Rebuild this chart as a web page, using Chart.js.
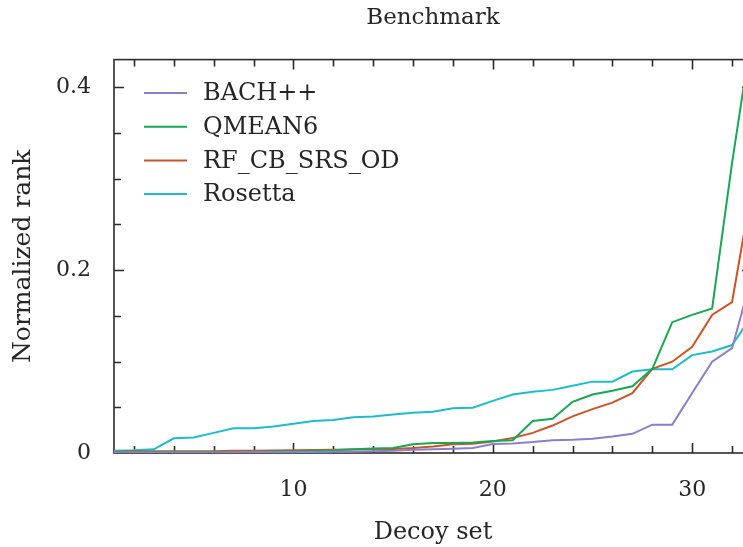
<!DOCTYPE html>
<html>
<head>
<meta charset="utf-8">
<script src="https://cdn.jsdelivr.net/npm/chart.js@4/dist/chart.umd.min.js"></script>
<style>
  html, body { margin: 0; padding: 0; background: #fff; overflow: hidden; }
  #wrap { width: 760px; height: 547px; }
</style>
</head>
<body>
<div id="wrap"><canvas id="chart" width="760" height="547"></canvas></div>
<script>
// decoy set index on the x axis
var decoySets = [1, 2, 3, 4, 5, 6, 7, 8, 9, 10, 11, 12, 13, 14, 15, 16, 17,
  18, 19, 20, 21, 22, 23, 24, 25, 26, 27, 28, 29, 30, 31, 32, 33];

var seriesNames = ["BACH++", "QMEAN6", "RF_CB_SRS_OD", "Rosetta"];
var seriesColors = ["#8a7fcb", "#16a852", "#cc5526", "#1dbccb"];

var bachValues = [0.0005, 0.0005, 0.0005, 0.0005, 0.0005, 0.0005, 0.0008, 0.001,
  0.001, 0.0012, 0.0012, 0.0015, 0.0015, 0.002, 0.0025, 0.0035, 0.004, 0.0047,
  0.0055, 0.0098, 0.0105, 0.012, 0.014, 0.0145, 0.0156, 0.018, 0.021, 0.031,
  0.031, 0.0655, 0.0997, 0.1146, 0.194];
var qmeanValues = [0.001, 0.001, 0.001, 0.001, 0.001, 0.001, 0.0012, 0.0015,
  0.0018, 0.002, 0.0025, 0.003, 0.004, 0.005, 0.0055, 0.0095, 0.011, 0.011,
  0.0115, 0.013, 0.014, 0.035, 0.0375, 0.056, 0.064, 0.068, 0.073, 0.092,
  0.143, 0.151, 0.158, 0.317, 0.46];
var rfValues = [0.0015, 0.002, 0.002, 0.002, 0.002, 0.002, 0.0025, 0.0025,
  0.0028, 0.003, 0.0032, 0.0035, 0.0038, 0.004, 0.0045, 0.0055, 0.007, 0.0095,
  0.010, 0.0125, 0.0165, 0.022, 0.030, 0.040, 0.048, 0.055, 0.0655, 0.092,
  0.0998, 0.116, 0.151, 0.165, 0.29];
var rosettaValues = [0.0025, 0.003, 0.004, 0.016, 0.017, 0.022, 0.027, 0.027,
  0.029, 0.032, 0.035, 0.036, 0.039, 0.040, 0.042, 0.044, 0.045, 0.049,
  0.0495, 0.057, 0.064, 0.067, 0.069, 0.0735, 0.078, 0.078, 0.089, 0.0915,
  0.0915, 0.107, 0.111, 0.118, 0.150];

var xTickLabels = [10, 20, 30];
var yTickLabels = [0, 0.2, 0.4];

var allValues = [bachValues, qmeanValues, rfValues, rosettaValues];

function toPoints(vals) {
  return vals.map(function (v, i) { return { x: decoySets[i], y: v }; });
}

var textFont = "'DejaVu Serif', serif";

// box with inward ticks on all four sides (gnuplot style)
var framePlugin = {
  id: 'frame',
  beforeDatasetsDraw: function (chart) {
    var ctx = chart.ctx, a = chart.chartArea;
    var xs = chart.scales.x, ys = chart.scales.y;
    ctx.save();
    ctx.strokeStyle = '#2b2b2b';
    ctx.lineWidth = 1.6;
    ctx.strokeRect(a.left, a.top, a.right - a.left, a.bottom - a.top);
    ctx.beginPath();
    for (var v = 2; v <= 32; v += 2) {
      var px = Math.round(xs.getPixelForValue(v)) + 0.5;
      var len = (v % 10 === 0) ? 10 : 7;
      ctx.moveTo(px, a.bottom); ctx.lineTo(px, a.bottom - len);
      ctx.moveTo(px, a.top); ctx.lineTo(px, a.top + len);
    }
    for (var k = 1; k <= 8; k++) {
      var val = k * 0.05;
      var py = Math.round(ys.getPixelForValue(val)) + 0.5;
      var l2 = (k % 4 === 0) ? 10 : 7;
      ctx.moveTo(a.left, py); ctx.lineTo(a.left + l2, py);
      ctx.moveTo(a.right, py); ctx.lineTo(a.right - l2, py);
    }
    ctx.stroke();
    ctx.restore();
  }
};

var legendPlugin = {
  id: 'insideLegend',
  afterDraw: function (chart) {
    var ctx = chart.ctx;
    ctx.save();
    ctx.font = "24px " + textFont;
    ctx.textBaseline = 'middle';
    ctx.fillStyle = '#262626';
    chart.data.datasets.forEach(function (ds, i) {
      var y = 93 + i * 33.7;
      ctx.strokeStyle = ds.borderColor;
      ctx.lineWidth = 2;
      ctx.beginPath();
      ctx.moveTo(144, y); ctx.lineTo(187, y);
      ctx.stroke();
      ctx.fillText(ds.label, 203, y + 1);
    });
    ctx.restore();
  }
};

new Chart(document.getElementById("chart"), {
  type: 'line',
  data: {
    datasets: seriesNames.map(function (name, i) {
      return {
        label: name,
        data: toPoints(allValues[i]),
        borderColor: seriesColors[i],
        backgroundColor: seriesColors[i],
        borderWidth: 2,
        pointRadius: 0,
        tension: 0,
        fill: false
      };
    })
  },
  options: {
    responsive: false,
    animation: false,
    layout: { padding: { left: 0, right: 8, top: 0, bottom: 0 } },
    plugins: {
      legend: { display: false },
      tooltip: { enabled: false },
      title: {
        display: true,
        fullSize: false,
        text: 'Benchmark',
        color: '#262626',
        font: { family: textFont, size: 23, weight: 'normal' },
        padding: { top: 4, bottom: 28 }
      }
    },
    scales: {
      x: {
        type: 'linear',
        min: 1,
        max: 33,
        grid: { display: false, drawTicks: false },
        border: { display: false },
        afterBuildTicks: function (s) {
          s.ticks = xTickLabels.map(function (v) { return { value: v }; });
        },
        afterFit: function (s) { s.height = 94; },
        ticks: {
          autoSkip: false,
          maxRotation: 0,
          padding: 24,
          color: '#262626',
          font: { family: textFont, size: 22 },
          callback: function (v) { return String(v); }
        },
        title: {
          display: true,
          text: 'Decoy set',
          color: '#262626',
          font: { family: textFont, size: 24 },
          padding: { top: 0, bottom: 0 }
        }
      },
      y: {
        min: 0,
        max: 0.43,
        grid: { display: false, drawTicks: false },
        border: { display: false },
        afterBuildTicks: function (s) {
          s.ticks = yTickLabels.map(function (v) { return { value: v }; });
        },
        afterFit: function (s) { s.width = 114; },
        ticks: {
          padding: 23,
          color: '#262626',
          font: { family: textFont, size: 22 },
          callback: function (v) { return String(v); }
        },
        title: {
          display: true,
          text: 'Normalized rank',
          color: '#262626',
          font: { family: textFont, size: 25 },
          padding: { top: 8, bottom: 0 }
        }
      }
    }
  },
  plugins: [framePlugin, legendPlugin]
});
</script>
</body>
</html>
